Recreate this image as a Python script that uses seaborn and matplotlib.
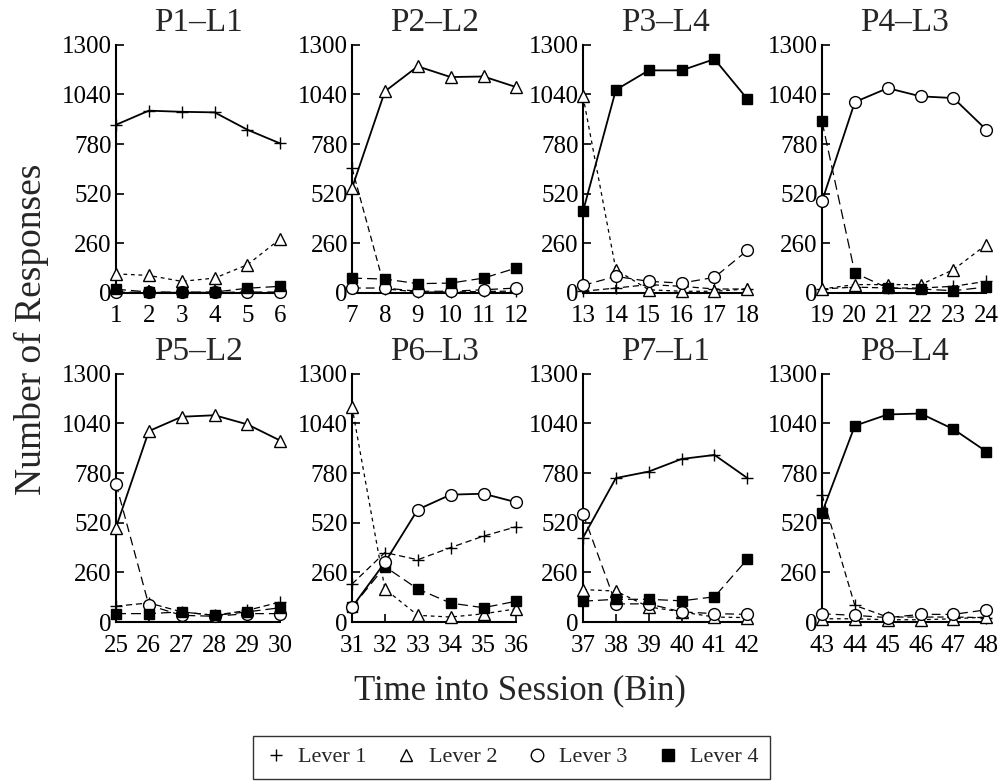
import numpy as np
import pandas as pd
import matplotlib.pyplot as plt
import seaborn as sns
from matplotlib.lines import Line2D

# bins 1..48, six per panel
bins = list(range(1, 49))
titles = ["P1\u2013L1", "P2\u2013L2", "P3\u2013L4", "P4\u2013L3",
          "P5\u2013L2", "P6\u2013L3", "P7\u2013L1", "P8\u2013L4"]
target_lever = [1, 2, 4, 3, 2, 3, 1, 4]

lever1 = [881, 955, 949, 946, 855, 783,
          654, 22, 5, 5, 8, 10,
          9, 26, 44, 35, 21, 21,
          21, 31, 26, 26, 35, 61,
          83, 100, 53, 35, 61, 105,
          199, 364, 326, 390, 450, 499,
          442, 754, 788, 854, 875, 754,
          667, 87, 26, 26, 26, 23]
lever2 = [100, 92, 61, 78, 148, 284,
          550, 1056, 1187, 1131, 1134, 1078,
          1030, 122, 17, 9, 9, 21,
          21, 44, 44, 44, 122, 253,
          495, 1000, 1075, 1083, 1035, 950,
          1126, 173, 35, 26, 43, 69,
          170, 162, 79, 53, 26, 23,
          17, 17, 12, 12, 17, 26]
lever3 = [5, 3, 3, 3, 5, 5,
          26, 26, 9, 9, 17, 26,
          40, 87, 61, 52, 82, 223,
          480, 1000, 1073, 1030, 1021, 855,
          724, 88, 35, 30, 44, 44,
          78, 312, 589, 667, 672, 627,
          567, 95, 95, 53, 44, 40,
          43, 35, 23, 40, 40, 64]
lever4 = [20, 5, 5, 5, 25, 35,
          78, 73, 49, 52, 78, 131,
          428, 1064, 1166, 1166, 1225, 1016,
          899, 105, 26, 21, 12, 31,
          44, 44, 53, 35, 53, 75,
          78, 290, 173, 99, 75, 109,
          109, 119, 119, 111, 132, 329,
          572, 1028, 1087, 1092, 1010, 893]
yticks = [0, 260, 520, 780, 1040, 1300]

df = pd.DataFrame({"bin": bins, "L1": lever1, "L2": lever2, "L3": lever3, "L4": lever4})
df["panel"] = (df["bin"] - 1) // 6

sns.set_style("ticks")
plt.rcParams["font.family"] = ["Liberation Serif", "DejaVu Serif"]

styles = {
    1: dict(marker="+", markersize=9, markerfacecolor="k", dash=(0, (5, 3))),
    2: dict(marker="^", markersize=9, markerfacecolor="white", dash=(0, (3, 3))),
    3: dict(marker="o", markersize=8.5, markerfacecolor="white", dash=(0, (7, 4))),
    4: dict(marker="s", markersize=7.5, markerfacecolor="k", dash=(0, (8, 4))),
}

fig = plt.figure(figsize=(9.99, 7.83), dpi=100)
lefts = [0.1161, 0.3524, 0.5836, 0.8228]
bottoms = [0.6258, 0.2056]
w, h = 0.1645, 0.3170

for p in range(8):
    ax = fig.add_axes([lefts[p % 4], bottoms[p // 4], w, h])
    sub = df[df["panel"] == p]
    order = [l for l in (1, 2, 3, 4) if l != target_lever[p]] + [target_lever[p]]
    for lev in order:
        st = styles[lev]
        ls = "-" if lev == target_lever[p] else st["dash"]
        lw = 1.3 if lev == target_lever[p] else 0.9
        sns.lineplot(x=sub["bin"], y=sub[f"L{lev}"], ax=ax, color="k",
                     linestyle=ls, linewidth=lw, marker=st["marker"],
                     markersize=st["markersize"], markerfacecolor=st["markerfacecolor"],
                     markeredgecolor="k", markeredgewidth=1.0, clip_on=False,
                     legend=False, zorder=3)
    b0 = sub["bin"].min()
    ax.set_xlim(b0, b0 + 5)
    ax.set_ylim(0, 1300)
    ax.set_xticks(sub["bin"])
    ax.set_yticks(yticks)
    ax.tick_params(direction="in", length=6, width=1.2, labelsize=18, colors="k")
    ax.tick_params(axis="x", pad=9)
    ax.tick_params(axis="y", pad=3)
    for s in ("top", "right"):
        ax.spines[s].set_visible(False)
    for s in ("left", "bottom"):
        ax.spines[s].set_linewidth(1.5)
        ax.spines[s].set_color("k")
    ax.set_xlabel("")
    ax.set_ylabel("")
    ax.set_title(titles[p], fontsize=24, pad=10)

fig.text(0.031, 0.58, "Number of Responses", rotation=90, ha="center", va="center", fontsize=27)
fig.text(0.52, 0.118, "Time into Session (Bin)", ha="center", va="center", fontsize=25)

handles = [Line2D([], [], color="k", linestyle="none", marker=styles[l]["marker"],
                  markersize=9 if l != 4 else 8, markerfacecolor=styles[l]["markerfacecolor"],
                  markeredgecolor="k", markeredgewidth=1.0)
           for l in (1, 2, 3, 4)]
leg = fig.legend(handles, ["Lever 1", "Lever 2", "Lever 3", "Lever 4"], ncol=4,
                 loc="center", bbox_to_anchor=(0.512, 0.033), fontsize=16,
                 frameon=True, fancybox=False, handlelength=1.0, handletextpad=0.5,
                 columnspacing=1.3, borderpad=0.5)
leg.get_frame().set_edgecolor("k")
leg.get_frame().set_linewidth(1.0)

fig.savefig("out.png", dpi=100)
